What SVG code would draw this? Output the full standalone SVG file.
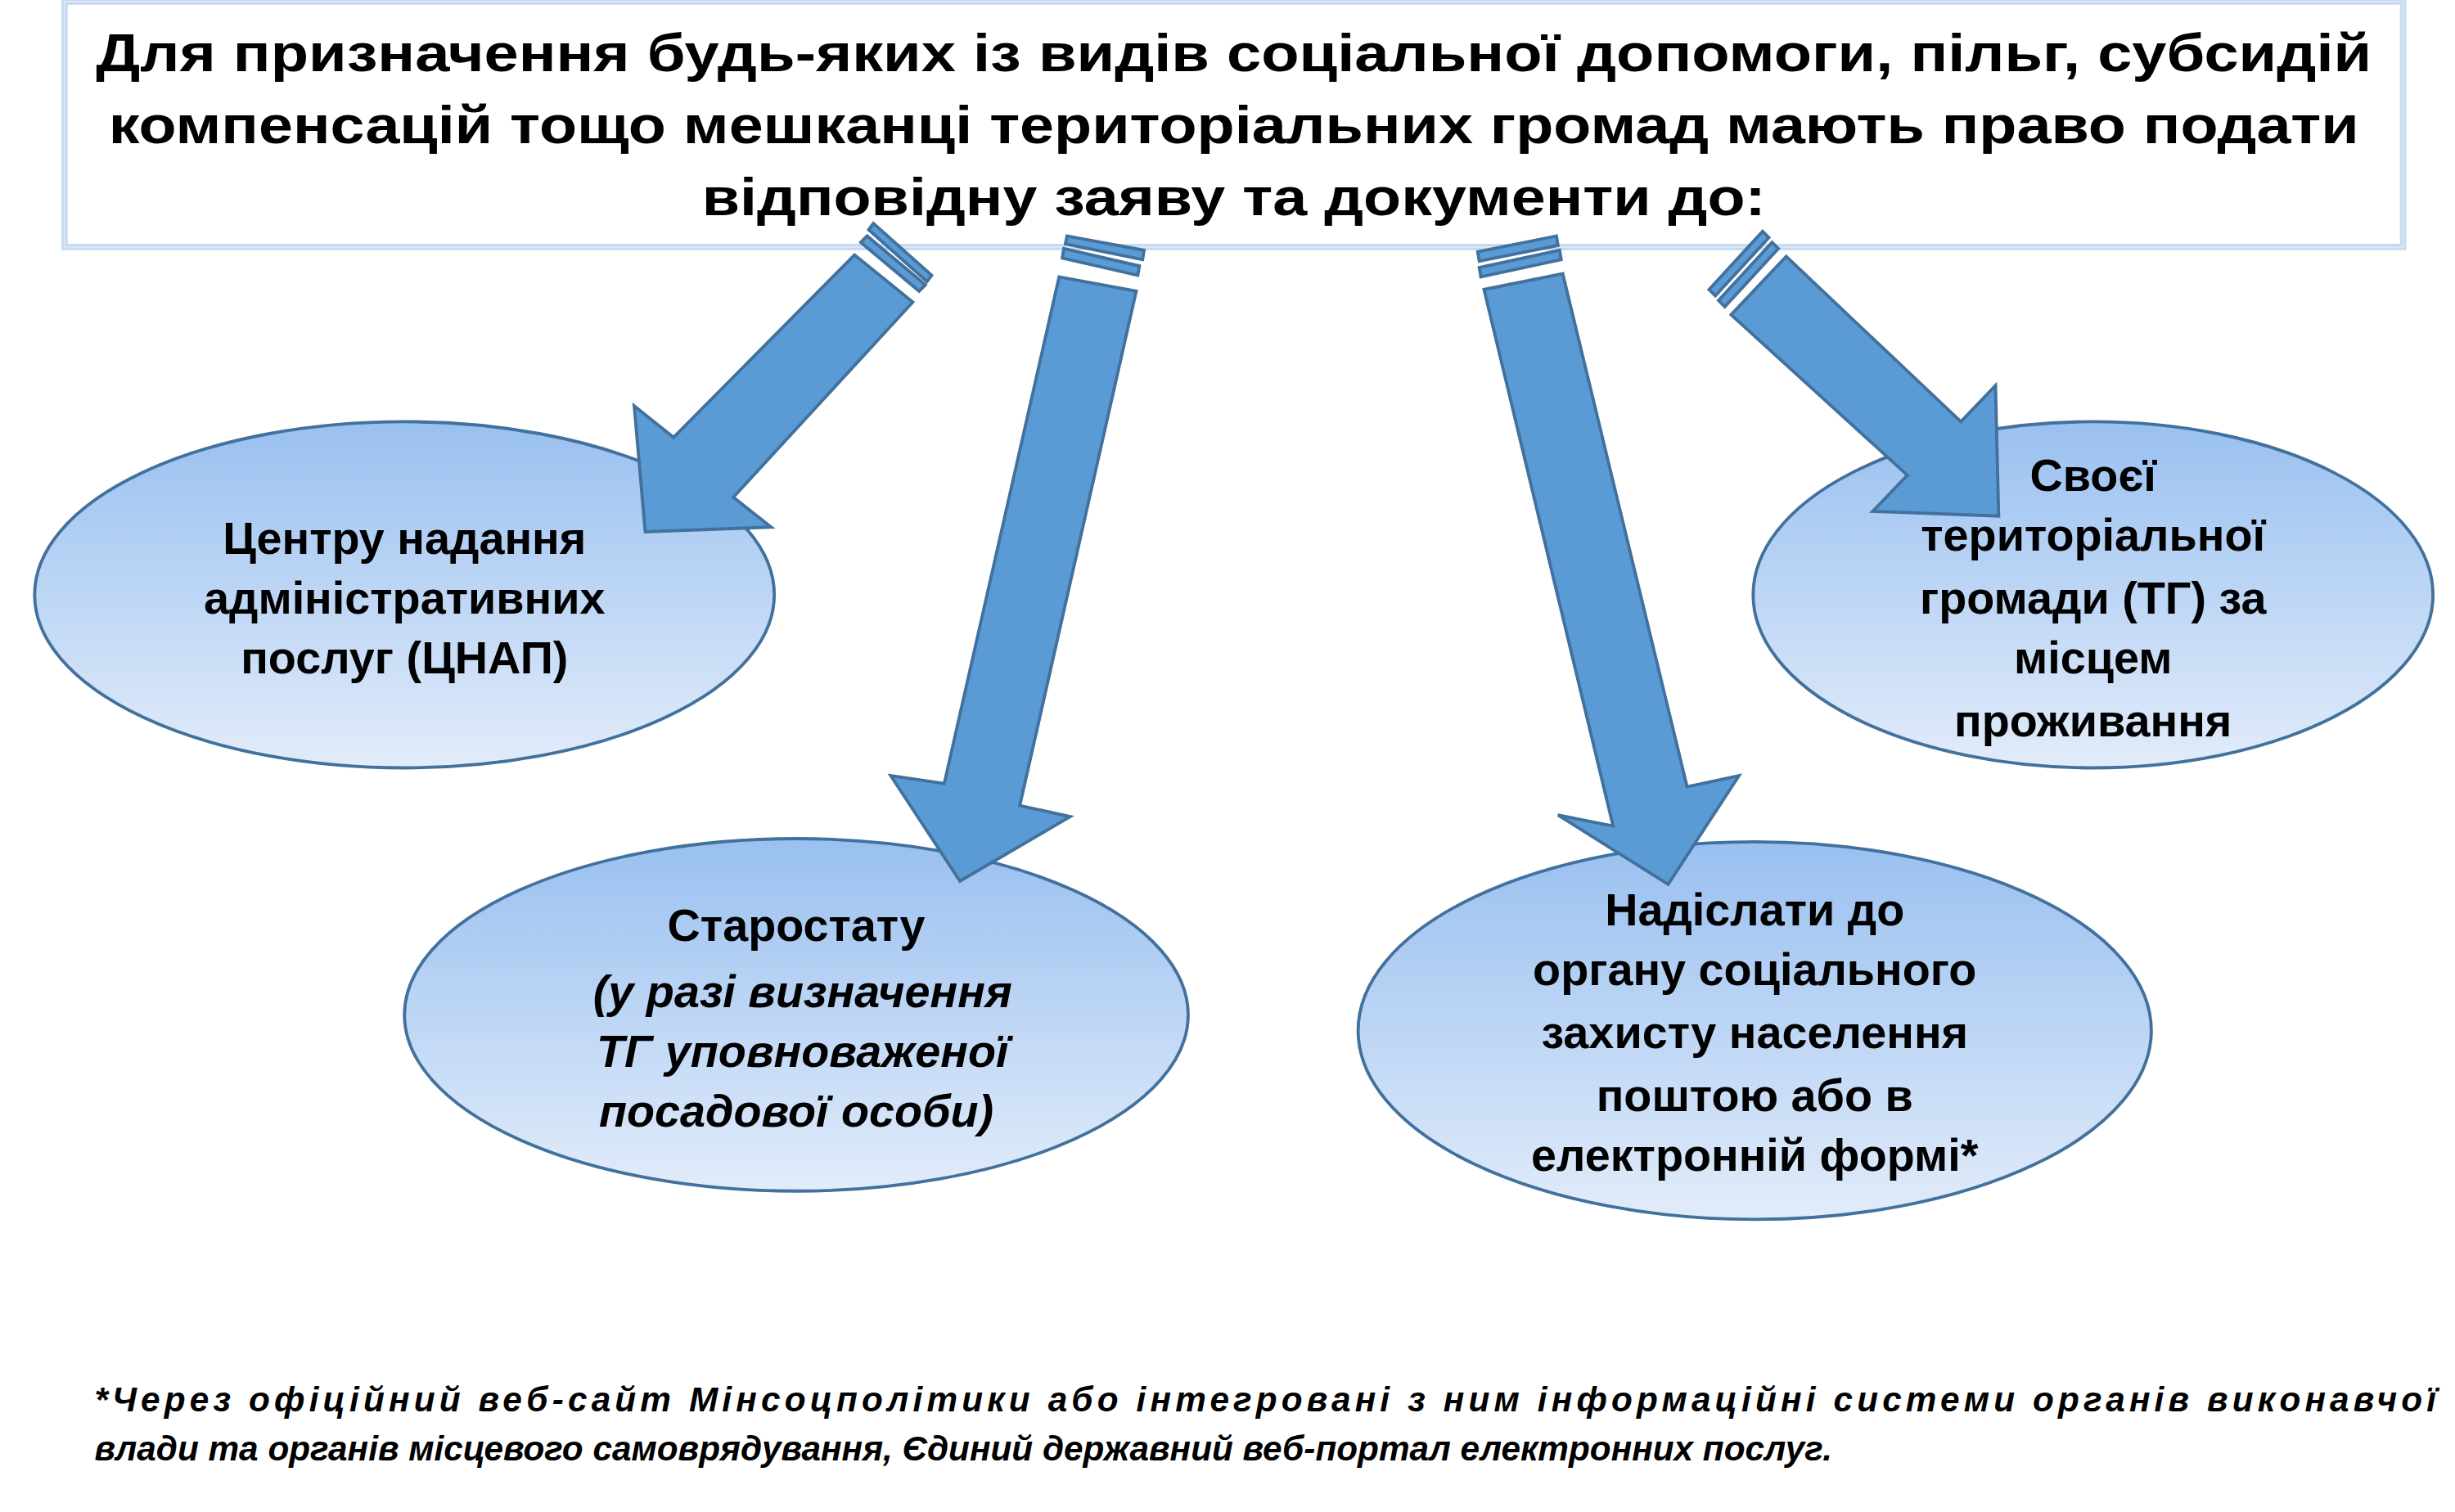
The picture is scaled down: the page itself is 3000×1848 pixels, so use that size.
<svg xmlns="http://www.w3.org/2000/svg" width="3000" height="1848" viewBox="0 0 3000 1848">
<defs>
<linearGradient id="eg" x1="0" y1="0" x2="0" y2="1"><stop offset="0" stop-color="#99c0f0"/><stop offset="1" stop-color="#e2ecfa"/></linearGradient>
<style>
.arr{fill:#5b9bd5;stroke:#41719c;stroke-width:2;stroke-linejoin:miter}
.ell{fill:url(#eg);stroke:#41719c;stroke-width:2}
.t{font-family:"Liberation Sans",Arial,sans-serif;font-weight:bold;fill:#000;text-anchor:middle}
.n{font-size:29px}
.i{font-style:italic}
.fn{font-family:"Liberation Sans",Arial,sans-serif;font-weight:bold;font-style:italic;font-size:22px;fill:#000}
</style>
</defs>
<rect width="3000" height="1848" fill="#fff"/>
<g transform="scale(1.9231)">
<g id="title">
<rect x="41" y="1" width="1486" height="156" fill="#fff" stroke="#c5d9f1" stroke-width="4"/>
<rect x="41" y="1" width="1486" height="156" fill="none" stroke="#dbe7f6" stroke-width="1" transform="translate(0,0)"/>
<text class="t" font-size="34" x="784" y="45" textLength="1446" lengthAdjust="spacingAndGlyphs">Для призначення  будь-яких із видів соціальної допомоги, пільг, субсидій</text>
<text class="t" font-size="34" x="784" y="91" textLength="1430" lengthAdjust="spacingAndGlyphs">компенсацій тощо мешканці територіальних громад мають право подати</text>
<text class="t" font-size="34" x="784" y="137" textLength="676" lengthAdjust="spacingAndGlyphs">відповідну заяву та документи до:</text>
</g>
<g id="n1">
<ellipse class="ell" cx="257" cy="378" rx="235" ry="110"/>
<text class="t n" x="257" y="352">Центру надання</text>
<text class="t n" x="257" y="390">адміністративних</text>
<text class="t n" x="257" y="428">послуг (ЦНАП)</text>
</g>
<g id="n2">
<ellipse class="ell" cx="506" cy="645" rx="249" ry="112"/>
<text class="t n" x="506" y="598">Старостату</text>
<text class="t n i" x="510" y="640">(у разі визначення</text>
<text class="t n i" x="510" y="678">ТГ уповноваженої</text>
<text class="t n i" x="506" y="716">посадової особи)</text>
</g>
<g id="n3">
<ellipse class="ell" cx="1115" cy="655" rx="252" ry="120"/>
<text class="t n" x="1115" y="588">Надіслати до</text>
<text class="t n" x="1115" y="626">органу соціального</text>
<text class="t n" x="1115" y="666">захисту населення</text>
<text class="t n" x="1115" y="706">поштою або в</text>
<text class="t n" x="1115" y="744">електронній формі*</text>
</g>
<g id="n4">
<ellipse class="ell" cx="1330" cy="378" rx="216" ry="110"/>
<text class="t n" x="1330" y="312">Своєї</text>
<text class="t n" x="1330" y="350">територіальної</text>
<text class="t n" x="1330" y="390">громади (ТГ) за</text>
<text class="t n" x="1330" y="428">місцем</text>
<text class="t n" x="1330" y="468">проживання</text>
</g>
<g id="connectors">
<polygon class="arr" points="543,162 428,278 403,258 410,338 490,335 466,316 580,192"/>
<polygon class="arr" points="547,154 584,185 588,181 551,150"/>
<polygon class="arr" points="552,146 589,179 592,175 555,142"/>
<polygon class="arr" points="673,176 600,498 566,493 610,560 680,519 648,512 722,185"/>
<polygon class="arr" points="675,164 723,175 724,169 676,158"/>
<polygon class="arr" points="677,155 726,165 727,159 678,150"/>
<polygon class="arr" points="943,184 1025,525 990,518 1060,562 1105,493 1072,500 993,174"/>
<polygon class="arr" points="941,176 992,165 991,159 940,170"/>
<polygon class="arr" points="940,166 990,156 989,150 939,160"/>
<polygon class="arr" points="1135,163 1246,268 1268,245 1270,328 1190,325 1212,302 1100,200"/>
<polygon class="arr" points="1096,195 1130,158 1126,154 1092,191"/>
<polygon class="arr" points="1090,188 1124,151 1120,147 1086,184"/>
</g>
<g id="footnote">
<text class="fn" x="60" y="897" textLength="1488" lengthAdjust="spacing">*Через офіційний веб-сайт Мінсоцполітики або інтегровані з ним інформаційні системи органів виконавчої</text>
<text class="fn" x="60" y="928">влади та органів місцевого самоврядування, Єдиний державний веб-портал електронних послуг.</text>
</g>
</g>
</svg>
